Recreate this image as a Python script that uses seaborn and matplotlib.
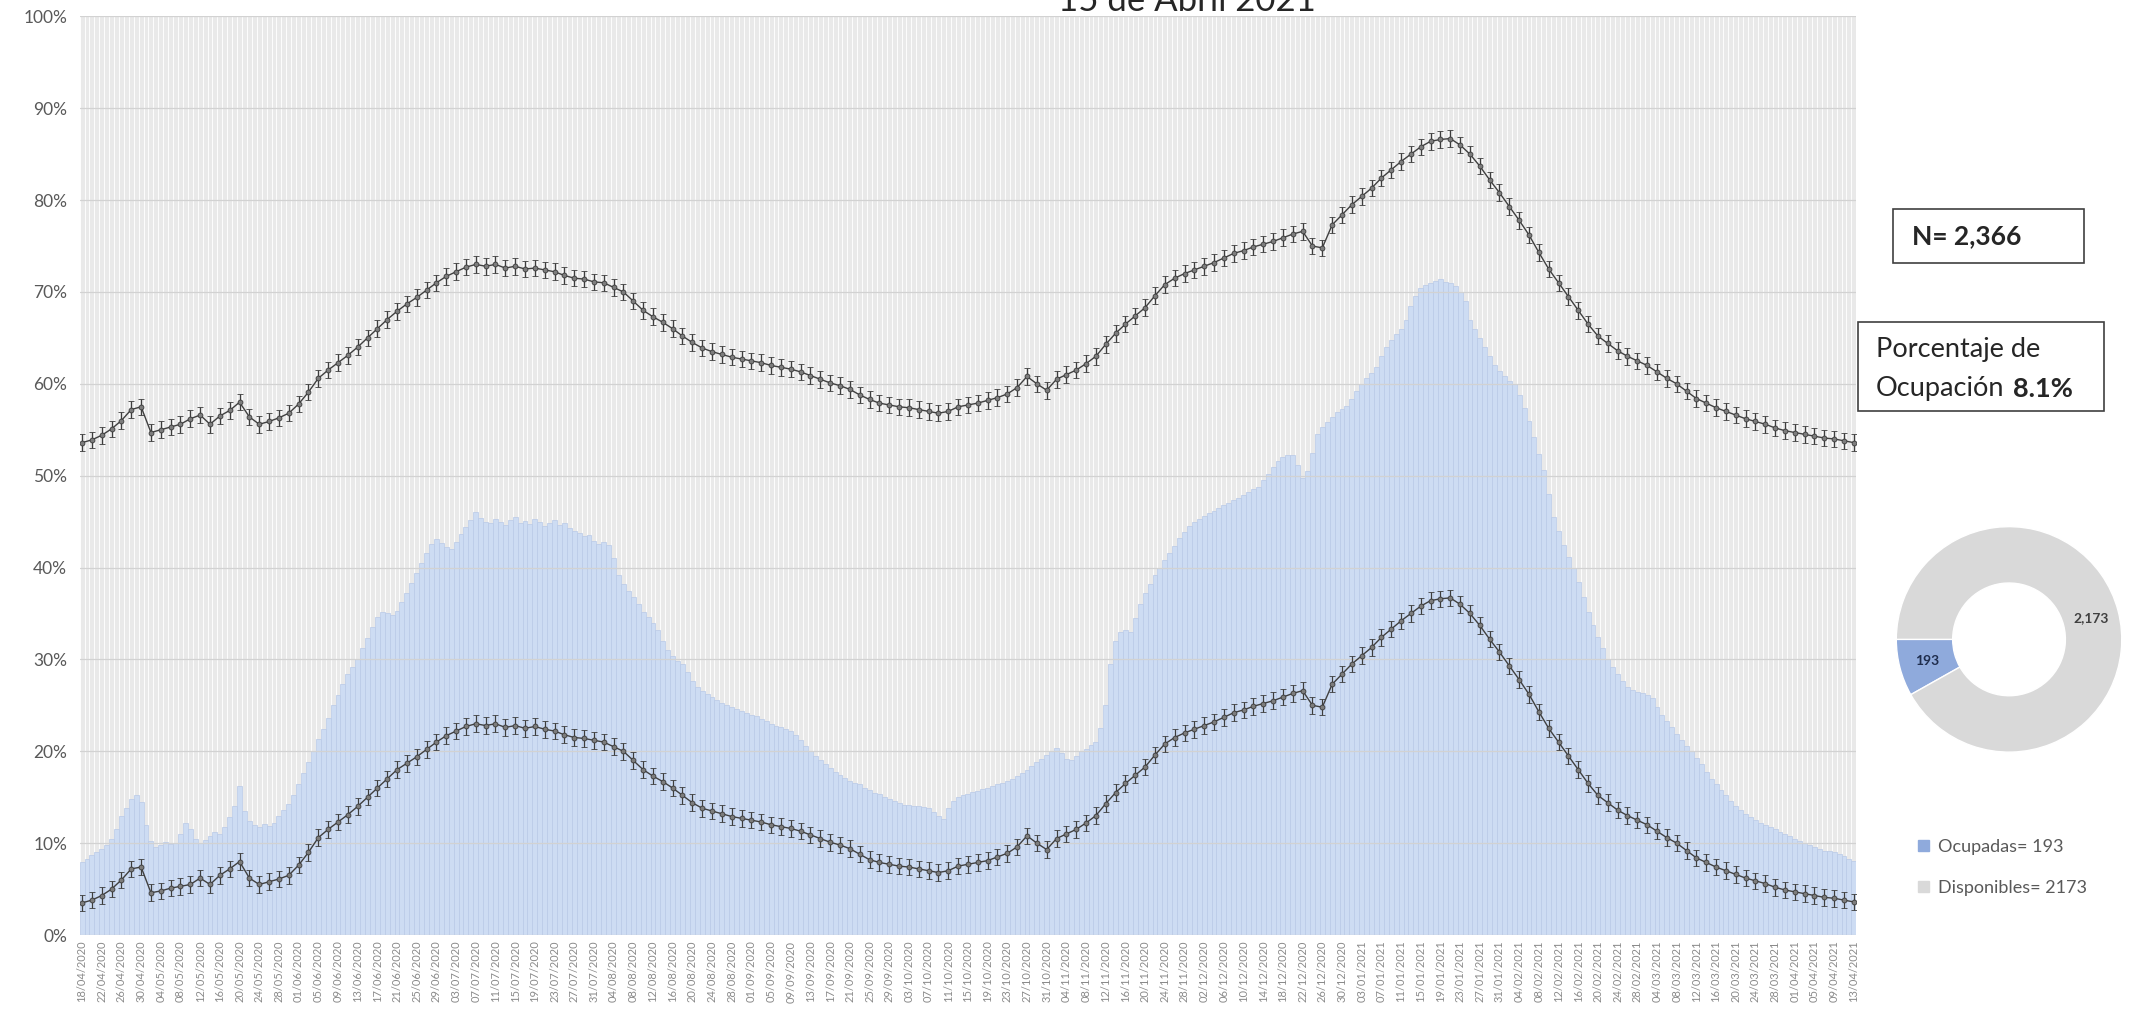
import numpy as np
import pandas as pd
import seaborn as sns
import matplotlib.pyplot as plt
from matplotlib.patches import Patch, Rectangle

# Dias del reporte (uno por barra)
fechas = pd.date_range('2020-04-18', '2021-04-13', freq='D')
etiquetas = list(fechas.strftime('%d/%m/%Y'))

# Porcentaje de ocupacion diario (barras azules)
ocupacion = [
    8.0, 8.3, 8.7, 9.0, 9.4, 9.8, 10.5, 11.5, 13.0, 13.8,
    14.8, 15.2, 14.5, 12.0, 10.2, 9.6, 9.8, 10.1, 9.9, 10.0,
    11.0, 12.2, 11.5, 10.4, 10.0, 10.3, 10.8, 11.2, 11.0, 11.8,
    12.8, 14.0, 16.2, 13.5, 12.4, 12.0, 11.8, 12.1, 11.9, 12.2,
    13.0, 13.6, 14.3, 15.2, 16.4, 17.6, 18.8, 20.0, 21.3, 22.4,
    23.6, 25.0, 26.1, 27.3, 28.4, 29.2, 30.0, 31.2, 32.3, 33.5,
    34.6, 35.2, 35.0, 34.8, 35.3, 36.2, 37.2, 38.3, 39.4, 40.5,
    41.6, 42.6, 43.1, 42.7, 42.2, 42.0, 42.8, 43.6, 44.4, 45.2,
    46.0, 45.4, 45.0, 44.8, 45.3, 45.0, 44.6, 45.2, 45.5, 44.9,
    45.1, 44.7, 45.3, 45.0, 44.5, 44.8, 45.2, 44.6, 44.9, 44.3,
    44.0, 43.8, 43.4, 43.5, 42.9, 42.6, 42.8, 42.5, 41.0, 39.2,
    38.2, 37.4, 36.8, 36.0, 35.2, 34.6, 34.0, 33.2, 32.0, 31.0,
    30.4, 29.8, 29.5, 28.6, 27.7, 27.0, 26.6, 26.2, 25.9, 25.6,
    25.3, 25.0, 24.8, 24.6, 24.4, 24.2, 24.0, 23.8, 23.5, 23.3,
    23.0, 22.8, 22.6, 22.4, 22.2, 21.8, 21.2, 20.6, 20.0, 19.5,
    19.0, 18.6, 18.2, 17.8, 17.4, 17.1, 16.8, 16.6, 16.4, 16.0,
    15.8, 15.5, 15.3, 15.0, 14.8, 14.6, 14.4, 14.2, 14.1, 14.0,
    14.0, 13.9, 13.8, 13.4, 13.0, 12.6, 13.8, 14.6, 15.0, 15.2,
    15.4, 15.6, 15.7, 15.9, 16.0, 16.2, 16.4, 16.6, 16.8, 17.0,
    17.3, 17.6, 18.0, 18.4, 18.8, 19.2, 19.6, 20.0, 20.4, 19.8,
    19.2, 19.0, 19.5, 20.0, 20.3, 20.7, 21.0, 22.5, 25.0, 29.5,
    32.0, 33.0, 33.2, 33.0, 34.5, 36.0, 37.2, 38.2, 39.2, 40.0,
    40.8, 41.6, 42.4, 43.2, 43.9, 44.5, 45.0, 45.3, 45.6, 45.9,
    46.2, 46.5, 46.8, 47.0, 47.3, 47.6, 47.9, 48.2, 48.5, 48.8,
    49.5, 50.2, 51.0, 51.6, 52.0, 52.2, 52.3, 51.2, 49.8, 50.5,
    52.5, 54.5, 55.3, 55.8, 56.4, 56.9, 57.3, 57.6, 58.4, 59.2,
    60.0, 60.6, 61.2, 61.8, 63.0, 64.0, 64.8, 65.4, 66.0, 67.0,
    68.5, 69.6, 70.4, 70.8, 71.0, 71.2, 71.4, 71.1, 71.0, 70.6,
    70.0, 69.0, 67.0, 66.0, 65.0, 64.0, 63.0, 62.0, 61.4, 60.8,
    60.3, 60.0, 58.8, 57.4, 56.0, 54.2, 52.4, 50.6, 48.0, 45.5,
    44.0, 42.5, 41.2, 40.0, 38.4, 36.8, 35.2, 33.8, 32.4, 31.2,
    30.0, 29.2, 28.4, 27.6, 27.0, 26.7, 26.5, 26.3, 26.1, 25.8,
    24.8, 24.0, 23.3, 22.6, 21.9, 21.2, 20.6, 20.0, 19.3, 18.6,
    17.8, 17.0, 16.4, 15.8, 15.2, 14.6, 14.0, 13.6, 13.2, 12.8,
    12.5, 12.2, 12.0, 11.8, 11.5, 11.2, 11.0, 10.8, 10.5, 10.2,
    10.0, 9.8, 9.6, 9.4, 9.2, 9.1, 9.0, 8.8, 8.6, 8.3,
    8.1,
]

# Lineas de tendencia (un punto cada dos dias)
dias_linea = list(range(0, 361, 2))
linea_inferior = [
    3.5, 3.8, 4.3, 5.0, 6.0, 7.2, 7.4, 4.6, 4.8, 5.1,
    5.3, 5.5, 6.2, 5.5, 6.5, 7.2, 8.0, 6.2, 5.5, 5.8,
    6.1, 6.5, 7.6, 9.0, 10.6, 11.5, 12.3, 13.1, 14.0, 15.0,
    16.0, 17.0, 18.0, 18.7, 19.4, 20.2, 21.0, 21.7, 22.2, 22.7,
    23.0, 22.8, 23.0, 22.6, 22.8, 22.5, 22.7, 22.4, 22.2, 21.8,
    21.5, 21.4, 21.2, 21.0, 20.5, 20.0, 19.0, 18.0, 17.3, 16.7,
    16.0, 15.2, 14.4, 13.8, 13.5, 13.2, 12.9, 12.7, 12.5, 12.3,
    12.0, 11.8, 11.6, 11.3, 10.9, 10.5, 10.1, 9.8, 9.4, 8.8,
    8.2, 7.9, 7.7, 7.5, 7.4, 7.2, 7.0, 6.8, 7.0, 7.5,
    7.7, 7.9, 8.1, 8.5, 8.9, 9.6, 10.8, 10.0, 9.3, 10.5,
    11.0, 11.5, 12.2, 13.0, 14.3, 15.5, 16.5, 17.4, 18.3, 19.6,
    20.8, 21.5, 22.0, 22.4, 22.8, 23.2, 23.7, 24.2, 24.5, 24.9,
    25.2, 25.5, 25.9, 26.3, 26.6, 25.0, 24.8, 27.3, 28.4, 29.5,
    30.4, 31.3, 32.4, 33.3, 34.2, 35.0, 35.8, 36.4, 36.6, 36.7,
    36.0, 35.0, 33.7, 32.2, 30.8, 29.3, 27.8, 26.2, 24.3, 22.5,
    21.0, 19.5, 18.0, 16.5, 15.2, 14.4, 13.6, 13.0, 12.5, 12.0,
    11.3, 10.6, 10.0, 9.2, 8.4, 7.9, 7.4, 7.0, 6.6, 6.2,
    5.9, 5.6, 5.2, 4.9, 4.7, 4.5, 4.3, 4.1, 4.0, 3.8,
    3.6,
]
linea_superior = [
    53.6, 53.9, 54.4, 55.1, 56.0, 57.2, 57.5, 54.7, 55.0, 55.3,
    55.6, 56.2, 56.6, 55.6, 56.5, 57.1, 58.0, 56.4, 55.6, 55.9,
    56.3, 56.8, 57.8, 59.1, 60.6, 61.5, 62.3, 63.1, 64.0, 65.0,
    66.0, 67.0, 67.9, 68.7, 69.4, 70.2, 71.0, 71.7, 72.2, 72.7,
    73.0, 72.8, 73.0, 72.6, 72.8, 72.5, 72.6, 72.4, 72.2, 71.8,
    71.5, 71.4, 71.1, 71.0, 70.5, 70.0, 69.0, 68.0, 67.3, 66.7,
    66.0, 65.2, 64.5, 63.9, 63.5, 63.2, 62.9, 62.7, 62.5, 62.3,
    62.0, 61.8, 61.6, 61.3, 60.9, 60.5, 60.1, 59.8, 59.4, 58.8,
    58.3, 57.9, 57.7, 57.5, 57.4, 57.2, 57.0, 56.8, 57.0, 57.5,
    57.7, 57.9, 58.2, 58.5, 58.9, 59.6, 60.8, 60.0, 59.3, 60.5,
    61.0, 61.5, 62.2, 63.0, 64.3, 65.5, 66.5, 67.4, 68.3, 69.6,
    70.8, 71.5, 72.0, 72.4, 72.8, 73.2, 73.7, 74.2, 74.5, 74.9,
    75.2, 75.5, 75.9, 76.3, 76.6, 75.0, 74.8, 77.3, 78.4, 79.5,
    80.4, 81.3, 82.4, 83.3, 84.2, 85.0, 85.8, 86.4, 86.6, 86.7,
    86.0, 85.0, 83.7, 82.2, 80.8, 79.3, 77.8, 76.2, 74.3, 72.5,
    71.0, 69.5, 68.0, 66.5, 65.2, 64.4, 63.6, 63.0, 62.5, 62.0,
    61.3, 60.6, 60.0, 59.2, 58.4, 57.9, 57.4, 57.0, 56.6, 56.2,
    55.9, 55.6, 55.2, 54.9, 54.7, 54.5, 54.3, 54.1, 54.0, 53.8,
    53.6,
]

# Resumen del dia
total_camas = 2366
ocupadas = 193
disponibles = 2173
pct_ocupacion = 8.1

AZUL_BARRA = '#cddcf3'
GRIS_BARRA = '#e9e9e9'
AZUL_DONA = '#8faadc'
GRIS_DONA = '#d9d9d9'
TXT = '#595959'

sns.set_theme(style='white')
plt.rcParams['font.family'] = ['Lato', 'DejaVu Sans']

fig = plt.figure(figsize=(21.51, 10.23), dpi=100)
ax = fig.add_axes([0.037, 0.086, 0.826, 0.898])

df = pd.DataFrame({'fecha': etiquetas, 'ocupacion': ocupacion})
df['total'] = 100

sns.barplot(data=df, x='fecha', y='total', color=GRIS_BARRA, saturation=1,
            width=1.0, errorbar=None, edgecolor='white', linewidth=0.6,
            ax=ax, zorder=1)
sns.barplot(data=df, x='fecha', y='ocupacion', color=AZUL_BARRA, saturation=1,
            width=1.0, errorbar=None, edgecolor='#b8c9e7', linewidth=0.5,
            ax=ax, zorder=2)

for v in range(0, 101, 10):
    ax.axhline(v, color='#d2d2d2', lw=0.9, zorder=3)

for serie in (linea_inferior, linea_superior):
    sns.lineplot(x=dias_linea, y=serie, ax=ax, color='#404040', lw=1.0, zorder=4)
    ax.errorbar(dias_linea, serie, yerr=0.9, fmt='o', color='#3d3d3d',
                ms=3.5, mfc='#7d7d7d', mec='#3a3a3a', mew=0.6,
                elinewidth=0.9, capsize=2.5, capthick=0.9, zorder=5)

ax.set_xlim(-0.5, len(etiquetas) - 0.5)
ax.set_ylim(0, 100)
ax.set_xticks(range(0, len(etiquetas), 4))
ax.set_xticklabels(etiquetas[::4], rotation=90, fontsize=8, color='#8a8a8a')
ax.set_yticks(range(0, 101, 10))
ax.set_yticklabels([f'{v}%' for v in range(0, 101, 10)], fontsize=12.5, color=TXT)
ax.tick_params(axis='y', length=0, pad=9)
ax.tick_params(axis='x', length=0, pad=4)
ax.set_xlabel('')
ax.set_ylabel('')
sns.despine(ax=ax, left=True, bottom=True)

# Titulo (cortado en la parte superior, como en el original)
fig.text(0.552, 0.989, '15 de Abril 2021', ha='center', va='baseline',
         fontsize=25, color='#262626')

# Cuadros de texto
fig.add_artist(Rectangle((0.880, 0.743), 0.089, 0.053, transform=fig.transFigure,
                         fill=False, ec='#404040', lw=1.2))
fig.text(0.889, 0.769, f'N= {total_camas:,}', fontsize=19, fontweight='bold',
         va='center', color='#262626')

fig.add_artist(Rectangle((0.864, 0.598), 0.114, 0.087, transform=fig.transFigure,
                         fill=False, ec='#404040', lw=1.2))
fig.text(0.872, 0.658, 'Porcentaje de', fontsize=19.5, va='center', color='#262626')
t = fig.text(0.872, 0.620, 'Ocupación', fontsize=19.5, va='center', color='#262626')
fig.canvas.draw()
bb = t.get_window_extent().transformed(fig.transFigure.inverted())
fig.text(bb.x1 + 0.004, 0.620, f'{pct_ocupacion}%', fontsize=19.5,
         fontweight='bold', va='center', color='#262626')

# Dona
axd = fig.add_axes([0.934 - 0.0535, 0.375 - 0.1124, 0.107, 0.2248])
valores = [ocupadas, disponibles]
axd.pie(valores, colors=[AZUL_DONA, GRIS_DONA], startangle=180, counterclock=True,
        radius=1, wedgeprops=dict(width=0.5, edgecolor='white', linewidth=1))
inicio = 180
for val, col in zip(valores, ['#1f2d4d', '#404040']):
    ang = inicio + 360 * val / sum(valores) / 2
    inicio += 360 * val / sum(valores)
    r = 0.75
    axd.text(r * np.cos(np.radians(ang)), r * np.sin(np.radians(ang)), f'{val:,}',
             ha='center', va='center', fontsize=10, fontweight='bold', color=col)
axd.set_xlim(-1.02, 1.02)
axd.set_ylim(-1.02, 1.02)
axd.set_aspect('equal')
axd.axis('off')

fig.legend(handles=[Patch(color=AZUL_DONA, label=f'Ocupadas= {ocupadas}'),
                    Patch(color=GRIS_DONA, label=f'Disponibles= {disponibles}')],
           loc='upper left', bbox_to_anchor=(0.884, 0.196), frameon=False,
           fontsize=13, handlelength=0.6, handleheight=0.6, handletextpad=0.5,
           labelspacing=1.4, labelcolor=TXT)

fig.savefig('out.png', dpi=100)
